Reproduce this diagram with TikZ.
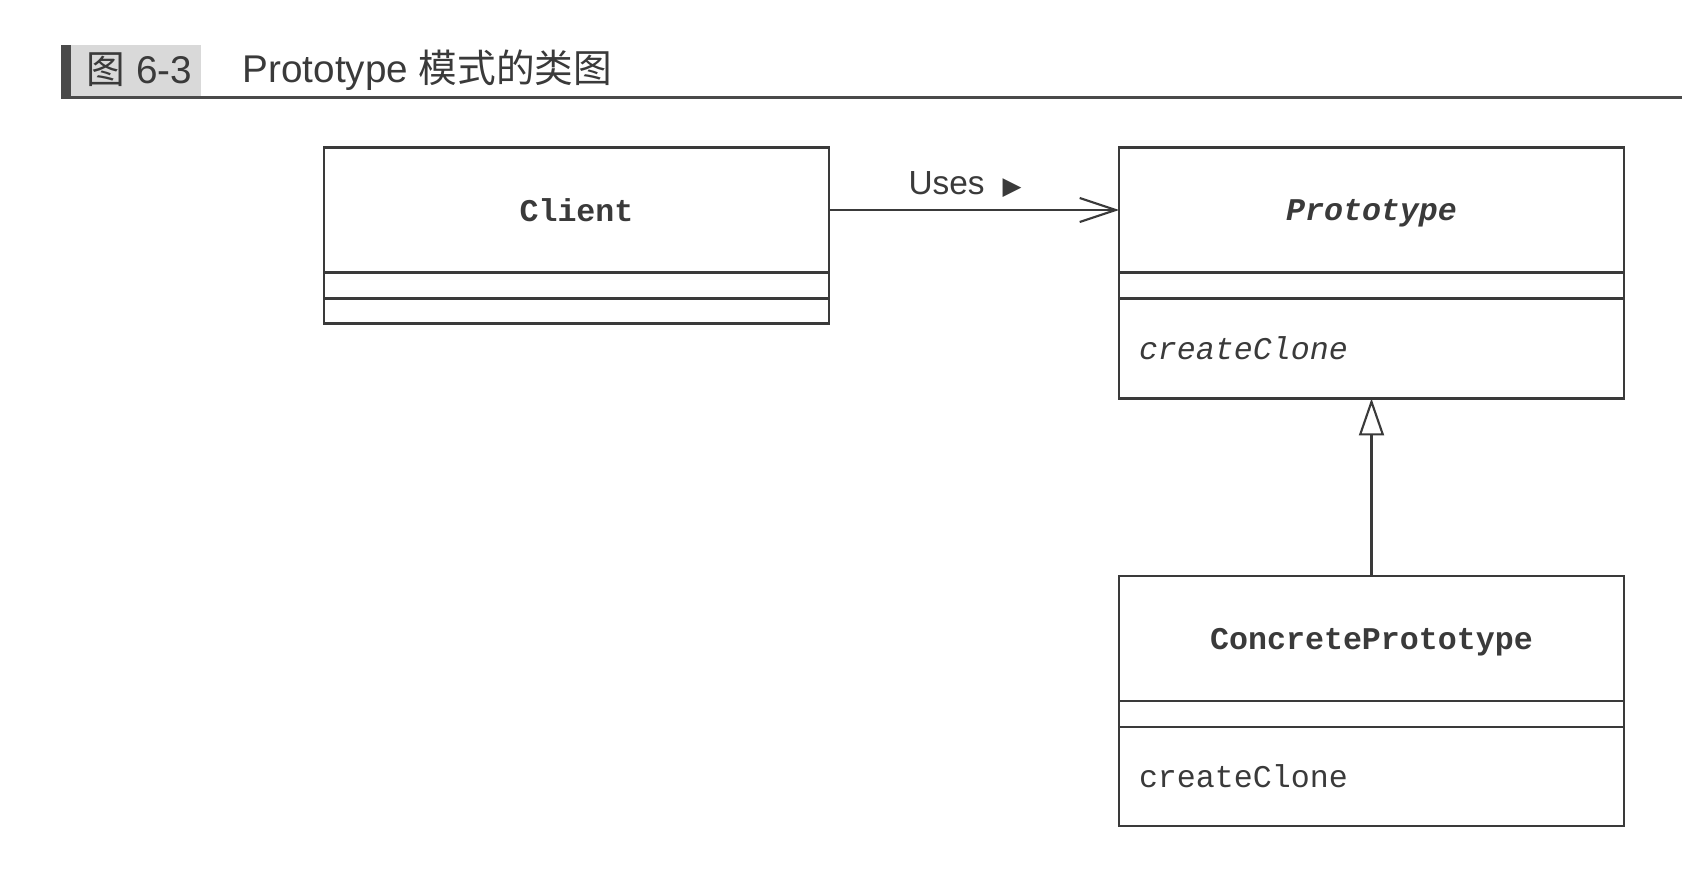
\documentclass[tikz,border=0pt]{standalone}
\usepackage{fontspec}
\setmainfont{Liberation Sans}
\setsansfont{Liberation Sans}
\setmonofont{Liberation Mono}
\newfontfamily\cjk{Noto Sans CJK SC}
\newfontfamily\symfont{DejaVu Sans}
\usepackage{xcolor}
\usepackage{tikz}
\usetikzlibrary{positioning,arrows.meta}

\definecolor{inkgray}{HTML}{3A3A3A}
\definecolor{tabgray}{HTML}{D9D9D9}
\definecolor{bargray}{HTML}{4A4A4A}

\tikzset{
    classname/.style={draw=inkgray, rectangle, line width=0.6pt, outer sep=0pt, minimum width=5.05cm, minimum height=1.25cm, text depth=0pt, text=inkgray, font=\ttfamily\bfseries\fontsize{9}{11}\selectfont},
    classattr/.style={draw=inkgray, rectangle, line width=0.6pt, outer sep=0pt, minimum width=5.05cm, minimum height=0.26cm, inner sep=0pt},
    classops/.style={draw=inkgray, rectangle, line width=0.6pt, outer sep=0pt, text width=4.65cm, inner xsep=0.2cm, inner ysep=0pt, align=left, text=inkgray, font=\ttfamily\fontsize{9}{11}\selectfont},
    uses/.style={draw=inkgray, line width=0.6pt, -{Straight Barb[length=3.6mm, width=2.4mm, line width=0.6pt]}},
    inherit/.style={draw=inkgray, line width=0.6pt, -{Triangle[open, length=3.7mm, width=2.5mm, line width=0.6pt]}},
}

\begin{document}
\begin{tikzpicture}[node distance=0pt]
    \useasboundingbox (0,0) rectangle (16.82,-8.75);

    % Title
    \fill [bargray] (0.61,-0.45) rectangle (0.71,-0.99);
    \fill [tabgray] (0.71,-0.45) rectangle (2.01,-0.97);
    \draw [bargray, line width=0.8pt] (0.61,-0.976) -- (16.82,-0.976);
    \node [anchor=west, inner sep=0pt, text=inkgray, font=\fontsize{11}{13}\selectfont] (fignum) at (0.86,-0.70) {{\cjk 图} 6-3};
    \node [anchor=west, inner sep=0pt, text=inkgray, font=\fontsize{11}{13}\selectfont] (figtitle) at (2.42,-0.70) {Prototype {\cjk 模式的类图}};

    % Client
    \node [classname] (client) at (5.765,-2.10) {Client};
    \node [classattr, below=of client] (clientattr) {};
    \node [classattr, below=of clientattr, minimum height=0.25cm] (clientops) {};

    % Prototype
    \node [classname] (proto) at (13.715,-2.10) {\itshape Prototype};
    \node [classattr, below=of proto] (protoattr) {};
    \node [classops, below=of protoattr, minimum height=1.0cm] (protoops) {\itshape createClone};

    % ConcretePrototype
    \node [classname] (concrete) at (13.715,-6.385) {ConcretePrototype};
    \node [classattr, below=of concrete] (concreteattr) {};
    \node [classops, below=of concreteattr, minimum height=0.99cm] (concreteops) {createClone};

    % relations
    \draw [uses] (client.east) -- (proto.west)
        node [midway, above=0pt, xshift=-0.9mm, text=inkgray, font=\fontsize{9.5}{11}\selectfont] (useslabel) {Uses\hspace{0.18cm}{\symfont\fontsize{7}{8}\selectfont ▶}};
    \draw [inherit] (concrete.north) -- (protoops.south);
\end{tikzpicture}
\end{document}
